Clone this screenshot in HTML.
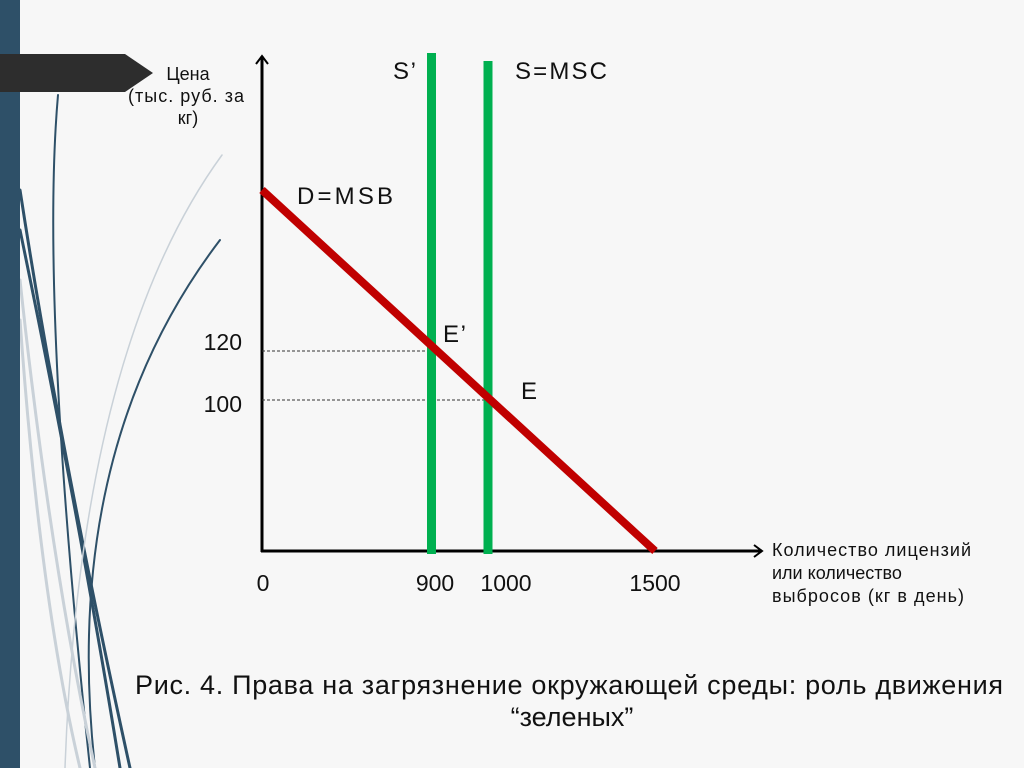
<!DOCTYPE html>
<html><head><meta charset="utf-8"><style>
html,body{margin:0;padding:0;background:#f7f7f7;}
svg{display:block}
text{font-family:"Liberation Sans",sans-serif;fill:#111}
</style></head><body>
<svg width="1024" height="768" viewBox="0 0 1024 768">
<rect width="1024" height="768" fill="#f7f7f7"/>
<g fill="none" stroke-linecap="round">
<path d="M58,95 Q40,300 90,768" stroke="#2e5068" stroke-width="2"/>
<path d="M20,190 Q60,450 130,768" stroke="#2e5068" stroke-width="3"/>
<path d="M20,230 Q80,520 120,768" stroke="#2e5068" stroke-width="3"/>
<path d="M220,240 Q60,450 95,768" stroke="#2e5068" stroke-width="2"/>
<path d="M222,155 Q80,350 65,768" stroke="#c9d1d8" stroke-width="1.5"/>
<path d="M20,280 Q50,560 95,768" stroke="#c9d1d8" stroke-width="3"/>
<path d="M20,320 Q40,600 80,768" stroke="#c9d1d8" stroke-width="3"/>
</g>
<rect x="0" y="0" width="20" height="768" fill="#2e5068"/>
<polygon points="0,54 125,54 153,73 125,92 0,92" fill="#2d2d2d"/>
<text x="188" y="80" font-size="18" text-anchor="middle">Цена</text>
<text x="186" y="102" font-size="18" text-anchor="middle" textLength="116">(тыс. руб. за</text>
<text x="188" y="124" font-size="18" text-anchor="middle">кг)</text>
<line x1="262" y1="56" x2="262" y2="552" stroke="#000" stroke-width="3"/>
<polyline points="256,64 262,56 268,64" fill="none" stroke="#000" stroke-width="2"/>
<line x1="261" y1="551" x2="762" y2="551" stroke="#000" stroke-width="3"/>
<polyline points="754,545 762,551 754,557" fill="none" stroke="#000" stroke-width="2"/>
<line x1="262" y1="351" x2="431" y2="351" stroke="#333" stroke-width="1" stroke-dasharray="3,2"/>
<line x1="262" y1="400" x2="488" y2="400" stroke="#333" stroke-width="1" stroke-dasharray="3,2"/>
<line x1="431.5" y1="53" x2="431.5" y2="554" stroke="#00b050" stroke-width="9"/>
<line x1="488" y1="61" x2="488" y2="554" stroke="#00b050" stroke-width="9"/>
<line x1="262" y1="190" x2="655" y2="551" stroke="#c00000" stroke-width="8"/>
<text x="393" y="79" font-size="24" textLength="23">S’</text>
<text x="515" y="79" font-size="24" textLength="92">S=MSC</text>
<text x="297" y="204" font-size="24" textLength="96">D=MSB</text>
<text x="443" y="342" font-size="24" textLength="23">E’</text>
<text x="521" y="399" font-size="24">E</text>
<text x="242" y="350" font-size="23" text-anchor="end">120</text>
<text x="242" y="412" font-size="23" text-anchor="end">100</text>
<text x="263" y="591" font-size="23" text-anchor="middle">0</text>
<text x="435" y="591" font-size="23" text-anchor="middle">900</text>
<text x="506" y="591" font-size="23" text-anchor="middle">1000</text>
<text x="655" y="591" font-size="23" text-anchor="middle">1500</text>
<text x="772" y="556" font-size="18" textLength="199">Количество лицензий</text>
<text x="772" y="579" font-size="18">или количество</text>
<text x="772" y="602" font-size="18" textLength="192">выбросов (кг в день)</text>
<text x="569" y="694" font-size="27" text-anchor="middle" textLength="868">Рис. 4. Права на загрязнение окружающей среды: роль движения</text>
<text x="572" y="726" font-size="27" text-anchor="middle">“зеленых”</text>
</svg>
</body></html>
